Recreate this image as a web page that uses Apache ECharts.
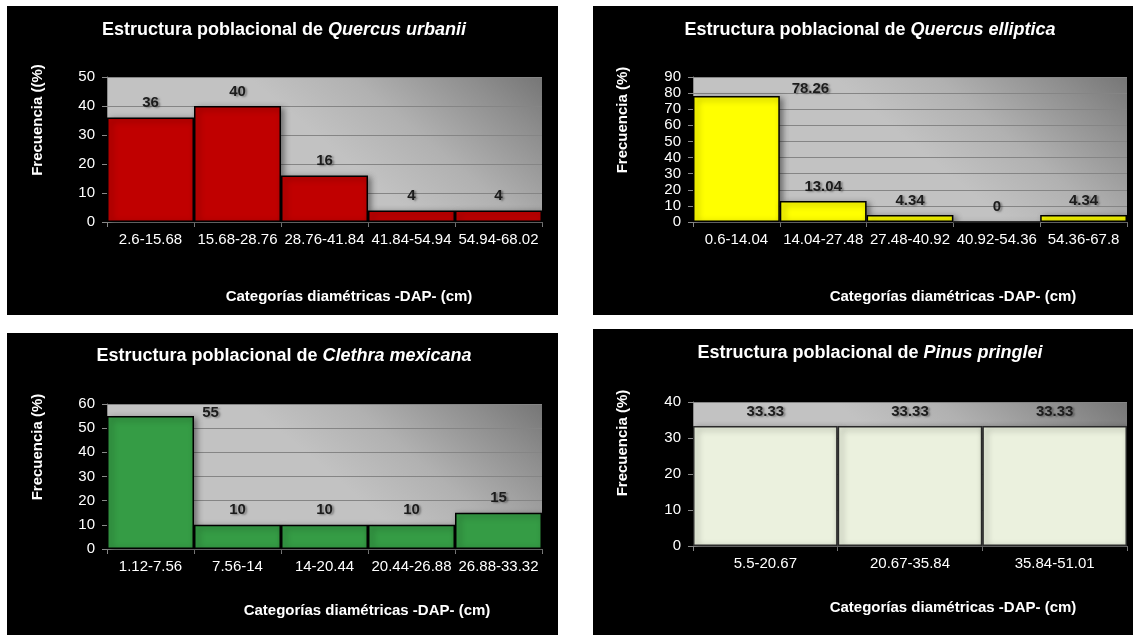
<!DOCTYPE html>
<html>
<head>
<meta charset="utf-8">
<title>Estructura poblacional</title>
<script src="https://cdn.jsdelivr.net/npm/echarts@6/dist/echarts.min.js"></script>
<style>
  html, body { margin: 0; padding: 0; background: #ffffff; width: 1133px; height: 635px; overflow: hidden; }
  .panel { position: absolute; background: #000000; }
</style>
</head>
<body>
<div id="p1" class="panel" style="left:7px;top:6px;width:551px;height:309px;"></div>
<div id="p2" class="panel" style="left:593px;top:6px;width:540px;height:309px;"></div>
<div id="p3" class="panel" style="left:7px;top:333px;width:551px;height:302px;"></div>
<div id="p4" class="panel" style="left:593px;top:329px;width:540px;height:306px;"></div>
<script>
// Diameter classes (DAP, cm) and relative frequency (%) per species
const urbaniiCategories = ['2.6-15.68', '15.68-28.76', '28.76-41.84', '41.84-54.94', '54.94-68.02'];
const urbaniiValues = [36, 40, 16, 4, 4];

const ellipticaCategories = ['0.6-14.04', '14.04-27.48', '27.48-40.92', '40.92-54.36', '54.36-67.8'];
const ellipticaValues = [78.26, 13.04, 4.34, 0, 4.34];

const clethraCategories = ['1.12-7.56', '7.56-14', '14-20.44', '20.44-26.88', '26.88-33.32'];
const clethraValues = [55, 10, 10, 10, 15];

const pinusCategories = ['5.5-20.67', '20.67-35.84', '35.84-51.01'];
const pinusValues = [33.33, 33.33, 33.33];

const titlePrefix = 'Estructura poblacional de ';
const xAxisTitle = 'Categorías diamétricas -DAP- (cm)';

const FONT = '"Liberation Sans", Arial, sans-serif';

// Plot area fill: darkest in the top-right corner, fading to light gray
function plotBackground() {
  return {
    type: 'linear', x: 1, y: 0, x2: 0.72, y2: 1,
    colorStops: [
      { offset: 0, color: '#767676' },
      { offset: 0.25, color: '#8e8e8e' },
      { offset: 0.5, color: '#a4a4a4' },
      { offset: 0.65, color: '#b1b1b1' },
      { offset: 1, color: '#c2c2c2' }
    ]
  };
}

function drawPanel(id, cfg) {
  const chart = echarts.init(document.getElementById(id), null, { renderer: 'canvas' });
  const data = cfg.values.map((v, i) => {
    const item = { value: v };
    if (cfg.labelOffsets && cfg.labelOffsets[i]) {
      item.label = { offset: cfg.labelOffsets[i] };
    }
    return item;
  });
  chart.setOption({
    backgroundColor: '#000000',
    animation: false,
    grid: {
      left: cfg.grid[0], top: cfg.grid[1], width: cfg.grid[2], height: cfg.grid[3],
      show: true, backgroundColor: plotBackground(), borderWidth: 0
    },
    graphic: [
      {
        type: 'text', x: 277, y: cfg.titleY,
        style: {
          text: '{n|' + titlePrefix + '}{s|' + cfg.species + '}',
          rich: {
            n: { fontFamily: FONT, fontSize: 18, fontWeight: 'bold', fill: '#ffffff' },
            s: { fontFamily: FONT, fontSize: 18, fontWeight: 'bold', fontStyle: 'italic', fill: '#ffffff' }
          },
          align: 'center', verticalAlign: 'middle'
        }
      },
      {
        type: 'text', x: cfg.yNameX, y: 114, rotation: Math.PI / 2,
        style: {
          text: cfg.yName, fontFamily: FONT, fontSize: 15, fontWeight: 'bold', fill: '#ffffff',
          align: 'center', verticalAlign: 'middle'
        }
      },
      {
        type: 'text', x: cfg.xNameX, y: cfg.xNameY,
        style: {
          text: xAxisTitle, fontFamily: FONT, fontSize: 15, fontWeight: 'bold', fill: '#ffffff',
          align: 'center', verticalAlign: 'middle'
        }
      }
    ],
    xAxis: {
      type: 'category',
      data: cfg.categories,
      boundaryGap: true,
      axisLine: { show: true, lineStyle: { color: '#8c8c8c', width: 1 } },
      axisTick: { show: true, length: 5, lineStyle: { color: '#8c8c8c' } },
      axisLabel: { color: '#ffffff', fontFamily: FONT, fontSize: 15, margin: 10, interval: 0 },
      splitLine: { show: false }
    },
    yAxis: {
      type: 'value',
      min: 0, max: cfg.max, interval: 10,
      axisLine: { show: true, lineStyle: { color: '#8c8c8c', width: 1 } },
      axisTick: { show: true, length: 5, lineStyle: { color: '#8c8c8c' } },
      axisLabel: { color: '#ffffff', fontFamily: FONT, fontSize: 15, margin: 12 },
      splitLine: { show: true, lineStyle: { color: '#858585', width: 1 } }
    },
    series: [{
      type: 'bar',
      data: data,
      barCategoryGap: '0%',
      itemStyle: {
        color: cfg.color,
        borderColor: cfg.border,
        borderWidth: 1.5,
        shadowColor: 'rgba(0,0,0,0.45)',
        shadowBlur: 6,
        shadowOffsetX: 3,
        shadowOffsetY: 2
      },
      label: {
        show: true,
        position: 'top',
        distance: 7,
        color: '#1c1c1c',
        fontFamily: FONT,
        fontSize: 15,
        fontWeight: 'bold',
        textShadowColor: 'rgba(0,0,0,0.35)',
        textShadowBlur: 2,
        textShadowOffsetX: 2,
        textShadowOffsetY: 1
      }
    }]
  });
}

drawPanel('p1', {
  species: 'Quercus urbanii', categories: urbaniiCategories, values: urbaniiValues,
  max: 50, color: '#c00000', border: '#000000',
  grid: [100, 71, 435, 145], titleY: 24, yName: 'Frecuencia ((%)', yNameX: 31,
  xNameX: 342, xNameY: 291
});

drawPanel('p2', {
  species: 'Quercus elliptica', categories: ellipticaCategories, values: ellipticaValues,
  max: 90, color: '#ffff00', border: '#000000',
  grid: [100, 71, 434, 145], titleY: 24, yName: 'Frecuencia (%)', yNameX: 30,
  xNameX: 360, xNameY: 291,
  labelOffsets: [[74, 7]]
});

drawPanel('p3', {
  species: 'Clethra mexicana', categories: clethraCategories, values: clethraValues,
  max: 60, color: '#359c45', border: '#000000',
  grid: [100, 71, 435, 145], titleY: 23, yName: 'Frecuencia (%)', yNameX: 31,
  xNameX: 360, xNameY: 278,
  labelOffsets: [[60, 11]]
});

drawPanel('p4', {
  species: 'Pinus pringlei', categories: pinusCategories, values: pinusValues,
  max: 40, color: '#ebf1de', border: '#2a2a2a',
  grid: [100, 73, 434, 144], titleY: 24, yName: 'Frecuencia (%)', yNameX: 30,
  xNameX: 360, xNameY: 279
});
</script>
</body>
</html>
